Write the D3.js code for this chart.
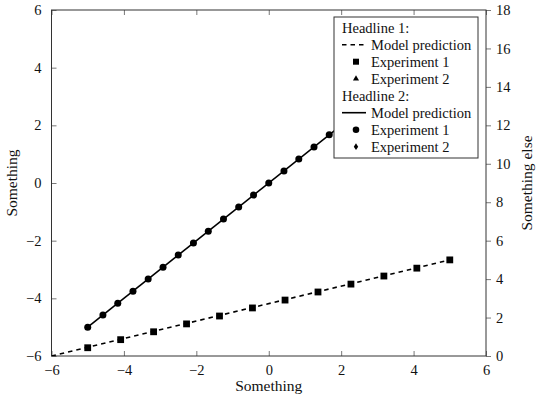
<!DOCTYPE html>
<html>
<head>
<meta charset="utf-8">
<script src="https://cdn.jsdelivr.net/npm/d3@7"></script>
<style>
  html, body { margin: 0; padding: 0; background: #fff; }
  text { font-family: "Liberation Serif", "Times New Roman", serif; fill: #111; }
</style>
</head>
<body>
<svg id="chart" width="540" height="400"></svg>
<script>
// ---- data ----
const xTicks = [-6, -4, -2, 0, 2, 4, 6];
const yLeftTicks = [-6, -4, -2, 0, 2, 4, 6];
const yRightTicks = [0, 2, 4, 6, 8, 10, 12, 14, 16, 18];

// Headline 1 (right axis): model prediction (dashed) + Experiment 1 (squares)
const model1X = [-6, 5];
const model1Y = [0, 5];
const exp1X = [-5, -4.09, -3.18, -2.27, -1.36, -0.45, 0.45, 1.36, 2.27, 3.18, 4.09, 5];
const exp1Y = [0.43, 0.85, 1.26, 1.67, 2.08, 2.5, 2.91, 3.33, 3.74, 4.16, 4.57, 5.0];

// Headline 2 (left axis): model prediction (solid) + Experiment 1 (circles)
const model2X = [-5, 5];
const model2Y = [-5, 5];
const exp2X = [-5, -4.58, -4.17, -3.75, -3.33, -2.92, -2.5, -2.08, -1.67, -1.25, -0.83, -0.42, 0,
               0.42, 0.83, 1.25, 1.67, 2.08, 2.5, 2.92, 3.33, 3.75, 4.17, 4.58, 5];
const exp2Y = [-5, -4.58, -4.17, -3.75, -3.33, -2.92, -2.5, -2.08, -1.67, -1.25, -0.83, -0.42, 0,
               0.42, 0.83, 1.25, 1.67, 2.08, 2.5, 2.92, 3.33, 3.75, 4.17, 4.58, 5];

const legendItems = [
  { type: "head", label: "Headline 1:" },
  { type: "dashed", label: "Model prediction" },
  { type: "square", label: "Experiment 1" },
  { type: "triangle", label: "Experiment 2" },
  { type: "head", label: "Headline 2:" },
  { type: "solid", label: "Model prediction" },
  { type: "circle", label: "Experiment 1" },
  { type: "diamond", label: "Experiment 2" }
];

// ---- layout ----
const L = 51.5, R = 486, T = 10, B = 356;
const FS = 14.5;
const svg = d3.select("#chart");

const x = d3.scaleLinear().domain([-6, 6]).range([L, R]);
const yL = d3.scaleLinear().domain([-6, 6]).range([B, T]);
const yR = d3.scaleLinear().domain([0, 18]).range([B, T]);

const fmt = d => (d < 0 ? "\u2212" + Math.abs(d) : String(d));

svg.append("defs").append("clipPath").attr("id", "clip")
  .append("rect").attr("x", L).attr("y", T).attr("width", R - L).attr("height", B - T);

// axes
function styleAxis(g) {
  g.select(".domain").remove();
  g.selectAll(".tick line").attr("stroke", "#555").attr("stroke-width", 0.8);
  g.selectAll(".tick text").attr("font-size", FS).attr("font-family", "Liberation Serif, serif").attr("fill", "#111");
}

svg.append("g").attr("transform", `translate(0,${B})`)
  .call(d3.axisBottom(x).tickValues(xTicks).tickFormat(fmt).tickSizeInner(-5).tickSizeOuter(0).tickPadding(9))
  .call(styleAxis);
svg.append("g").attr("transform", `translate(0,${T})`)
  .call(d3.axisTop(x).tickValues(xTicks).tickFormat("").tickSizeInner(-5).tickSizeOuter(0))
  .call(styleAxis);
svg.append("g").attr("transform", `translate(${L},0)`)
  .call(d3.axisLeft(yL).tickValues(yLeftTicks).tickFormat(fmt).tickSizeInner(-5).tickSizeOuter(0).tickPadding(10))
  .call(styleAxis);
svg.append("g").attr("transform", `translate(${R},0)`)
  .call(d3.axisRight(yR).tickValues(yRightTicks).tickFormat(d3.format("d")).tickSizeInner(5).tickSizeOuter(0).tickPadding(5))
  .call(styleAxis);

// frame
svg.append("rect").attr("x", L).attr("y", T).attr("width", R - L).attr("height", B - T)
  .attr("fill", "none").attr("stroke", "#333").attr("stroke-width", 1);

// data layer
const plot = svg.append("g").attr("clip-path", "url(#clip)");

const lineR = d3.line().x(d => x(d[0])).y(d => yR(d[1]));
const lineL = d3.line().x(d => x(d[0])).y(d => yL(d[1]));

plot.append("path").datum(model1X.map((v, i) => [v, model1Y[i]]))
  .attr("d", lineR).attr("fill", "none").attr("stroke", "#000").attr("stroke-width", 1.6)
  .attr("stroke-dasharray", "4.5,4");
const sq = 6.8;
plot.selectAll(".sq").data(exp1X.map((v, i) => [v, exp1Y[i]])).enter().append("rect")
  .attr("x", d => x(d[0]) - sq / 2).attr("y", d => yR(d[1]) - sq / 2)
  .attr("width", sq).attr("height", sq).attr("fill", "#000");

plot.append("path").datum(model2X.map((v, i) => [v, model2Y[i]]))
  .attr("d", lineL).attr("fill", "none").attr("stroke", "#000").attr("stroke-width", 1.6);
plot.selectAll(".ci").data(exp2X.map((v, i) => [v, exp2Y[i]])).enter().append("circle")
  .attr("cx", d => x(d[0])).attr("cy", d => yL(d[1])).attr("r", 3.5).attr("fill", "#000");

// axis labels
svg.append("text").attr("x", (L + R) / 2).attr("y", 391).attr("text-anchor", "middle")
  .attr("font-size", 15.5).text("Something");
svg.append("text").attr("transform", `translate(17,${(T + B) / 2}) rotate(-90)`)
  .attr("text-anchor", "middle").attr("font-size", 15.5).text("Something");
svg.append("text").attr("transform", `translate(532,${(T + B) / 2}) rotate(-90)`)
  .attr("text-anchor", "middle").attr("font-size", 15.5).text("Something else");

// legend
const lg = svg.append("g");
const lx = 334, ly = 17, lw = 144, lh = 141, rowH = 17, row0 = 27.7;
lg.append("rect").attr("x", lx).attr("y", ly).attr("width", lw).attr("height", lh)
  .attr("fill", "#fff").attr("stroke", "#333").attr("stroke-width", 1);
legendItems.forEach((it, i) => {
  const cy = row0 + i * rowH;
  const g = lg.append("g");
  if (it.type === "head") {
    g.append("text").attr("x", 342).attr("y", cy + 5).attr("font-size", FS).text(it.label);
    return;
  }
  g.append("text").attr("x", 371).attr("y", cy + 5).attr("font-size", FS).text(it.label);
  const mx = 356;
  if (it.type === "dashed" || it.type === "solid") {
    g.append("line").attr("x1", 342).attr("x2", 366).attr("y1", cy).attr("y2", cy)
      .attr("stroke", "#000").attr("stroke-width", 1.6)
      .attr("stroke-dasharray", it.type === "dashed" ? "4.5,4" : null);
  } else if (it.type === "square") {
    g.append("rect").attr("x", mx - 3).attr("y", cy - 3).attr("width", 6).attr("height", 6).attr("fill", "#000");
  } else if (it.type === "circle") {
    g.append("circle").attr("cx", mx).attr("cy", cy).attr("r", 3.3).attr("fill", "#000");
  } else if (it.type === "triangle") {
    g.append("path").attr("d", d3.symbol().type(d3.symbolTriangle).size(16)())
      .attr("transform", `translate(${mx},${cy})`).attr("fill", "#000");
  } else if (it.type === "diamond") {
    g.append("path").attr("d", `M0,-3.4L2.2,0L0,3.4L-2.2,0Z`)
      .attr("transform", `translate(${mx},${cy})`).attr("fill", "#000");
  }
});
</script>
</body>
</html>
